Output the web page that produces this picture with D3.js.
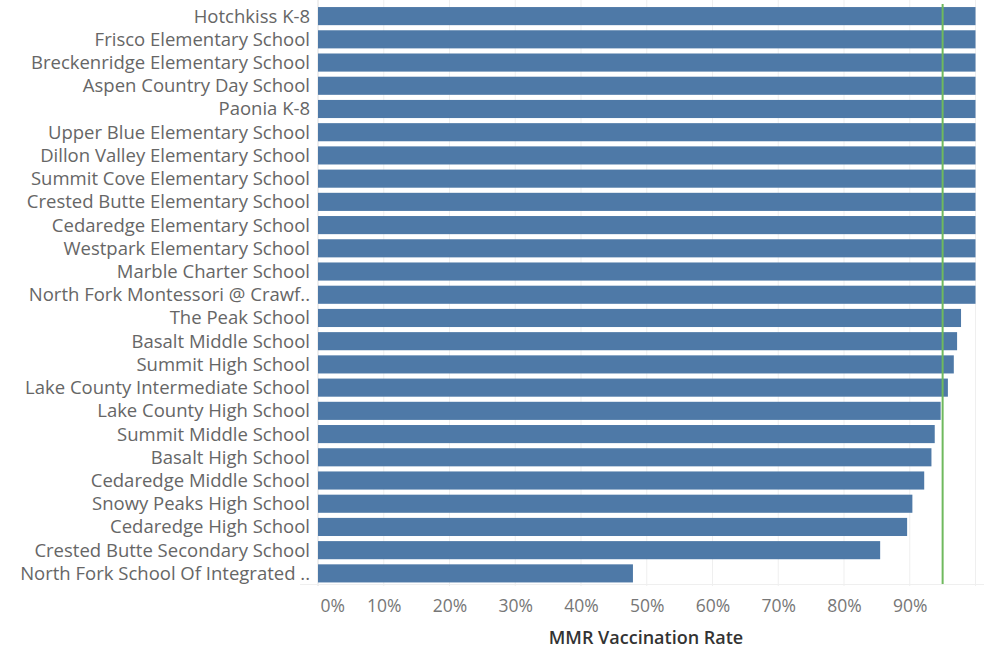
<!DOCTYPE html>
<html>
<head>
<meta charset="utf-8">
<script src="https://cdn.jsdelivr.net/npm/d3@7"></script>
<style>
  body { margin: 0; background: #fff; }
  svg { display: block; font-family: "Open Sans", "Noto Sans", sans-serif; }
</style>
</head>
<body>
<div id="chart"></div>
<script>
// escuelas, de arriba a abajo
const schools = [
  "Hotchkiss K-8", "Frisco Elementary School", "Breckenridge Elementary School",
  "Aspen Country Day School", "Paonia K-8", "Upper Blue Elementary School",
  "Dillon Valley Elementary School", "Summit Cove Elementary School",
  "Crested Butte Elementary School", "Cedaredge Elementary School",
  "Westpark Elementary School", "Marble Charter School",
  "North Fork Montessori @ Crawf..", "The Peak School", "Basalt Middle School",
  "Summit High School", "Lake County Intermediate School", "Lake County High School",
  "Summit Middle School", "Basalt High School", "Cedaredge Middle School",
  "Snowy Peaks High School", "Cedaredge High School", "Crested Butte Secondary School",
  "North Fork School Of Integrated .."
];
const rates = [
  1, 1, 1, 1, 1, 1, 1, 1, 1, 1, 1, 1, 1,
  0.978, 0.972, 0.967, 0.958, 0.947, 0.938, 0.933, 0.922, 0.904, 0.896, 0.855, 0.479
];
const tickValues = [0, 0.1, 0.2, 0.3, 0.4, 0.5, 0.6, 0.7, 0.8, 0.9];
const target = 0.95; // linea de referencia

const width = 984, height = 649;
const x0 = 318, x1 = 975.5;
const data = schools.map((s, i) => ({ name: s, value: rates[i] }));

const svg = d3.select("#chart").append("svg")
  .attr("width", width)
  .attr("height", height);

const x = d3.scaleLinear().domain([0, 1]).range([x0, x1]);
const y = d3.scaleBand().domain(schools).range([4.5, 585]).paddingInner(0.22).paddingOuter(0.11);

// cuadricula
svg.append("g").selectAll("line")
  .data(tickValues.concat([1]))
  .enter().append("line")
  .attr("x1", d => x(d)).attr("x2", d => x(d))
  .attr("y1", 0).attr("y2", 586)
  .attr("stroke", "#efefef")
  .attr("stroke-width", 1);

svg.append("line")
  .attr("x1", x0).attr("x2", x0)
  .attr("y1", 0).attr("y2", 586)
  .attr("stroke", "#e6e6e6");

svg.append("line")
  .attr("x1", 300).attr("x2", 984)
  .attr("y1", 584.5).attr("y2", 584.5)
  .attr("stroke", "#efefef");

// barras
svg.append("g").selectAll("rect")
  .data(data)
  .enter().append("rect")
  .attr("x", x(0))
  .attr("y", d => y(d.name))
  .attr("width", d => x(d.value) - x(0))
  .attr("height", y.bandwidth())
  .attr("fill", "#4e79a7");

// linea de referencia 95%
svg.append("line")
  .attr("x1", x(target)).attr("x2", x(target))
  .attr("y1", 4).attr("y2", 584)
  .attr("stroke", "#6fb95e")
  .attr("stroke-width", 2);

// etiquetas del eje y
const yAxis = svg.append("g")
  .attr("transform", `translate(${x0 - 8},0)`)
  .call(d3.axisLeft(y).tickSize(0).tickPadding(0));
yAxis.select(".domain").remove();
yAxis.selectAll("text")
  .attr("fill", "#666")
  .style("font-family", "'Open Sans', sans-serif")
  .style("font-size", "18.5px")
  .attr("dy", "0.35em");

// eje x
const xAxis = svg.append("g")
  .attr("transform", "translate(0,600)")
  .call(d3.axisBottom(x).tickValues(tickValues).tickFormat(d3.format(".0%")).tickSize(0).tickPadding(0));
xAxis.select(".domain").remove();
xAxis.selectAll("text")
  .attr("fill", "#777")
  .style("font-family", "'Open Sans', sans-serif")
  .style("font-size", "17.5px")
  .attr("dy", "0.71em")
  .attr("text-anchor", d => d === 0 ? "start" : "middle")
  .attr("dx", d => d === 0 ? 2 : 0);

svg.append("text")
  .attr("x", 646)
  .attr("y", 644)
  .attr("text-anchor", "middle")
  .attr("fill", "#333")
  .style("font-size", "18px")
  .style("font-weight", 600)
  .text("MMR Vaccination Rate");
</script>
</body>
</html>
